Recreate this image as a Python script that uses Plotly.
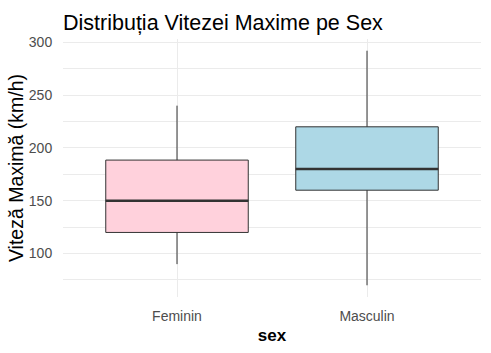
import plotly.graph_objects as go

categories = ["Feminin", "Masculin"]
q1 = [120, 160]
median = [150, 180]
q3 = [188.5, 220]
lower_whisker = [90, 70]
upper_whisker = [240, 292]
fill_colors = ["#FFD1DC", "#ADD8E6"]
y_tickvals = [100, 150, 200, 250, 300]

box_width = 0.75
fig = go.Figure()
for i, cat in enumerate(categories):
    fig.add_trace(go.Box(
        x=[i], q1=[q1[i]], median=[median[i]], q3=[q3[i]],
        lowerfence=[lower_whisker[i]], upperfence=[upper_whisker[i]],
        width=box_width, whiskerwidth=0, fillcolor=fill_colors[i],
        line=dict(color="#333333", width=1), boxpoints=False,
        showlegend=False, hoverinfo="skip", name=cat,
    ))
    fig.add_trace(go.Scatter(
        x=[i - box_width / 2, i + box_width / 2], y=[median[i], median[i]],
        mode="lines", line=dict(color="#333333", width=2.4),
        showlegend=False, hoverinfo="skip",
    ))

font_family = "Liberation Sans, Arial, sans-serif"
fig.update_layout(
    width=491, height=353,
    margin=dict(l=63, r=10, t=39, b=56, autoexpand=False),
    paper_bgcolor="white", plot_bgcolor="white",
    font=dict(family=font_family, color="#4D4D4D"),
    title=dict(text="Distribuția Vitezei Maxime pe Sex", x=63 / 491, xanchor="left",
               xref="container", yref="container", y=1 - 22 / 353, yanchor="middle",
               font=dict(size=21.5, color="black", family=font_family)),
    xaxis=dict(range=[-0.6, 1.6], tickvals=list(range(len(categories))), ticktext=categories,
               showgrid=True, gridcolor="#EBEBEB", gridwidth=1, zeroline=False, showline=False,
               ticks="outside", ticklen=6, tickcolor="rgba(0,0,0,0)",
               tickfont=dict(size=14, color="#4D4D4D"),
               title=dict(text="<b>sex</b>", standoff=6, font=dict(size=17, color="black"))),
    yaxis=dict(range=[58.9, 303.1], tickvals=y_tickvals,
               showgrid=True, gridcolor="#EBEBEB", gridwidth=1, zeroline=False, showline=False,
               ticks="outside", ticklen=7, tickcolor="rgba(0,0,0,0)",
               tickfont=dict(size=14, color="#4D4D4D"),
               minor=dict(dtick=25, tick0=0, showgrid=True, gridcolor="#EBEBEB", gridwidth=0.6),
               title=dict(text="Viteză Maximă (km/h)", standoff=0, font=dict(size=19.5, color="black"))),
)
fig.write_html("out.html")
